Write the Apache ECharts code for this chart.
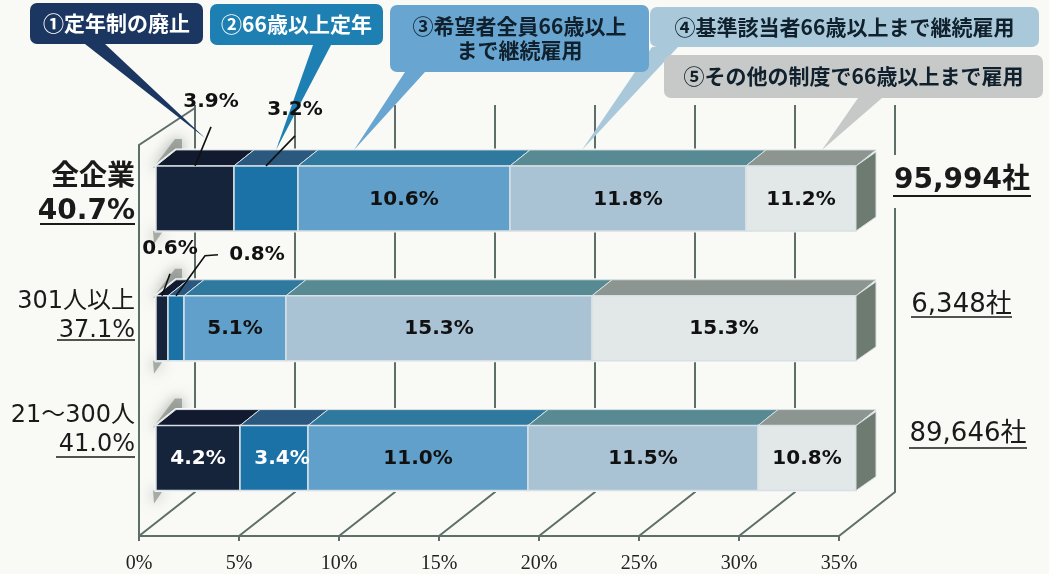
<!DOCTYPE html>
<html><head><meta charset="utf-8">
<style>html,body{margin:0;padding:0;background:#f9faf6}#c{width:1049px;height:574px}</style>
<script src="https://cdn.jsdelivr.net/npm/echarts@6/dist/echarts.min.js"></script>
</head><body><div id="c"></div>
<script>
// ---- data ----
const rows = ['全企業', '301人以上', '21～300人'];
const rowShares = ['40.7%', '37.1%', '41.0%'];
const rowTotals = ['95,994社', '6,348社', '89,646社'];
const abolished = [3.9, 0.6, 4.2];
const over66 = [3.2, 0.8, 3.4];
const allApplicants = [10.6, 5.1, 11.0];
const qualified = [11.8, 15.3, 11.5];
const otherSystems = [11.2, 15.3, 10.8];
const policyNames = ['①定年制の廃止', '②66歳以上定年', '③希望者全員66歳以上\nまで継続雇用', '④基準該当者66歳以上まで継続雇用', '⑤その他の制度で66歳以上まで雇用'];
const ticks = [0, 5, 10, 15, 20, 25, 30, 35];

// ---- style ----
const seriesValues = [abolished, over66, allApplicants, qualified, otherSystems];
const frontColors = ['#15233b', '#1b72a6', '#60a0ca', '#a9c3d5', '#e2e8e8'];
const topColors = ['#111a2e', '#2a587e', '#2f799f', '#588a94', '#8d9590'];
const calloutFill = ['#1b3660', '#1d7fb2', '#68a5d0', '#a9c9db', '#c7c9c8'];
const calloutText = ['#fff', '#fff', '#10202c', '#10202c', '#10202c'];
const calloutRects = [[30, 3, 173, 41], [210, 4, 173, 41], [390, 5, 259, 67], [650, 7, 389, 40], [664, 55, 379, 43]];
const calloutPointers = [
  [[85, 44], [105, 44], [205, 138]],
  [[313, 45], [331, 45], [276, 150]],
  [[405, 72], [425, 72], [354, 150]],
  [[652, 47], [678, 47], [582, 150]],
  [[858, 98], [882, 98], [822, 150]]
];
const calloutZ = [4, 4, 4, 3, 4];
const leftLabelY = [[178, 212], [302, 331], [416, 445]];
const leftUnderlineY = [224, 340, 457];
const rightLabelY = [181, 305, 434];
const rightUnderlineY = [196, 317, 448];
const rightUnderlineX = [[893, 1031], [911, 1012], [909, 1027]];
const leftUnderlineX = [40, 57, 56];
const FACE_DX = 17, FACE_H = 65, TOP_DX = 20, TOP_DY = -16;
const SANS = '"DejaVu Sans","Noto Sans CJK JP",sans-serif';
// labels placed outside the bar: [row, segment] -> leader points and label offset from the segment's top centre
const outside = {
  '0-0': { leader: [[16, -39]], label: [16, -64] },
  '0-1': { leader: [[29, -30]], label: [29, -56] },
  '1-0': { leader: [[8, -22]], label: [8, -47] },
  '1-1': { leader: [[29, -40], [42, -41]], label: [81, -41] }
};
const labelNudge = { '2-1': 8 };
const whiteLabels = { '2-0': 1, '2-1': 1 };
const MAX = 35;

const chart = echarts.init(document.getElementById('c'), null, { renderer: 'canvas' });

function wallItem(params, api) {
  const v = api.value(0), cs = params.coordSys;
  const fx = api.coord([v, 0])[0];
  const fy = cs.y + cs.height + 13;
  const bx = fx + 56, by = fy - 44, topY = 105;
  const st = { stroke: '#5e6f6a', lineWidth: 2, fill: null };
  const kids = [
    { type: 'polyline', shape: { points: [[fx, fy], [bx, by], [bx, topY]] }, style: st }
  ];
  if (v === 0) kids.push({ type: 'polyline', shape: { points: [[fx, fy], [fx, 145], [bx, 108]] }, style: st });
  return { type: 'group', children: kids };
}

function rowBackdrop(params, api) {
  const row = api.value(0);
  const c0 = api.coord([0, row]), c1 = api.coord([MAX, row]);
  const x0 = c0[0] + FACE_DX, x1 = c1[0] + FACE_DX, t = c0[1] - FACE_H / 2, b = c0[1] + FACE_H / 2;
  const bg = { fill: '#f9faf6', stroke: '#f9faf6', lineWidth: 3 };
  const sh = { fill: 'rgba(112,118,112,0.55)', shadowBlur: 14, shadowColor: 'rgba(95,100,95,1)' };
  return { type: 'group', children: [
    { type: 'polygon', shape: { points: [[x0 - 3, t + 2], [x0 + 19, t - 27], [x0 + 26, t - 27], [x0 + 26, t - 14], [x0 + 3, t + 2]] }, style: sh },
    { type: 'polygon', shape: { points: [[x0 - 3, b], [x0 + 7, b], [x0 - 2, b + 13]] }, style: sh },
    { type: 'polygon', shape: { points: [[x0, t], [x0 + TOP_DX, t + TOP_DY], [x1 + TOP_DX, t + TOP_DY], [x1 + TOP_DX, b - 14], [x1, b], [x0, b]] }, style: bg }
  ] };
}

function segmentItem(seg) {
  return function (params, api) {
    const start = api.value(0), val = api.value(1), row = api.value(2);
    const end = Math.min(start + val, MAX);
    const a = api.coord([start, row]), z = api.coord([end, row]);
    const x0 = a[0] + FACE_DX, x1 = z[0] + FACE_DX, t = a[1] - FACE_H / 2, b = a[1] + FACE_H / 2;
    const edge = '#d8e0e4';
    const kids = [
      { type: 'polygon', shape: { points: [[x0, t], [x0 + TOP_DX, t + TOP_DY], [x1 + TOP_DX, t + TOP_DY], [x1, t]] },
        style: { fill: topColors[seg], stroke: edge, lineWidth: 1 } },
      { type: 'rect', shape: { x: x0, y: t, width: x1 - x0, height: b - t },
        style: { fill: frontColors[seg], stroke: edge, lineWidth: 1.5 } }
    ];
    if (start + val >= MAX) {
      kids.push({ type: 'polygon', shape: { points: [[x1, t], [x1 + TOP_DX, t + TOP_DY + 2], [x1 + TOP_DX, b - 14], [x1, b]] },
        style: { fill: '#6d7b70', stroke: edge, lineWidth: 1 } });
    }
    return { type: 'group', children: kids };
  };
}

function labelItem(seg) {
  return function (params, api) {
    const start = api.value(0), val = api.value(1), row = api.value(2);
    const end = Math.min(start + val, MAX);
    const a = api.coord([start, row]), z = api.coord([end, row]);
    const cx = (a[0] + z[0]) / 2 + FACE_DX, t = a[1] - FACE_H / 2;
    const key = row + '-' + seg, o = outside[key];
    const text = val.toFixed(1) + '%';
    const font = 'bold 20px ' + SANS;
    if (o) {
      const pts = [[cx, t]].concat(o.leader.map(p => [cx + p[0], t + p[1]]));
      return { type: 'group', children: [
        { type: 'polyline', shape: { points: pts }, style: { stroke: '#111', lineWidth: 1.6, fill: null } },
        { type: 'text', style: { text, x: cx + o.label[0], y: t + o.label[1], fill: '#111', font, align: 'center', verticalAlign: 'middle' } }
      ] };
    }
    return { type: 'text', style: { text, x: cx + (labelNudge[key] || 0), y: a[1] + 1, fill: whiteLabels[key] ? '#fff' : '#111', font, align: 'center', verticalAlign: 'middle' } };
  };
}

const series = [];
series.push({ type: 'custom', name: 'wall', z: 1, silent: true, renderItem: wallItem, data: ticks.map(v => [v]), encode: { x: 0 } });
series.push({ type: 'custom', name: 'backdrop', z: 2, silent: true, renderItem: rowBackdrop, data: rows.map((r, i) => [i]) });
const running = rows.map(() => 0);
const segData = seriesValues.map(vals => vals.map((v, r) => {
  const d = [running[r], v, r]; running[r] += v; return d;
}));
seriesValues.forEach((vals, s) => {
  series.push({ type: 'custom', name: policyNames[s], z: 5, silent: true, renderItem: segmentItem(s), data: segData[s], encode: { x: [0, 1], y: 2 } });
});
seriesValues.forEach((vals, s) => {
  series.push({ type: 'custom', name: policyNames[s] + ' label', z: 6, silent: true, renderItem: labelItem(s), data: segData[s], encode: { x: [0, 1], y: 2 } });
});

const graphics = [];
policyNames.forEach((name, i) => {
  const r = calloutRects[i];
  graphics.push({ type: 'polygon', z: calloutZ[i], shape: { points: calloutPointers[i] }, style: { fill: calloutFill[i] } });
  graphics.push({ type: 'rect', z: calloutZ[i], shape: { x: r[0], y: r[1], width: r[2], height: r[3], r: 7 }, style: { fill: calloutFill[i] } });
  graphics.push({ type: 'text', z: 10, style: { text: name, x: r[0] + r[2] / 2, y: r[1] + r[3] / 2, fill: calloutText[i],
    font: 'bold 21px "Noto Sans CJK JP"', align: 'center', verticalAlign: 'middle', lineHeight: 24 } });
});
rows.forEach((name, i) => {
  const bold = i === 0;
  const font = (bold ? 'bold 28px ' : '24px ') + SANS;
  graphics.push({ type: 'text', z: 10, style: { text: name, x: 135, y: leftLabelY[i][0], fill: '#1a1a1a', font, align: 'right', verticalAlign: 'middle' } });
  graphics.push({ type: 'text', z: 10, style: { text: rowShares[i], x: 135, y: leftLabelY[i][1], fill: '#1a1a1a', font, align: 'right', verticalAlign: 'middle' } });
  graphics.push({ type: 'line', z: 10, shape: { x1: leftUnderlineX[i], y1: leftUnderlineY[i], x2: 135, y2: leftUnderlineY[i] }, style: { stroke: '#1a1a1a', lineWidth: bold ? 2 : 1.5 } });
  const rx = rightUnderlineX[i];
  if (bold) graphics.push({ type: 'rect', z: 8, shape: { x: 888, y: 155, width: 16, height: 53 }, style: { fill: '#f9faf6' } });
  graphics.push({ type: 'text', z: 10, style: { text: rowTotals[i], x: (rx[0] + rx[1]) / 2, y: rightLabelY[i], fill: '#1a1a1a',
    font: (bold ? 'bold 28px ' : '26px ') + SANS, align: 'center', verticalAlign: 'middle' } });
  graphics.push({ type: 'line', z: 10, shape: { x1: rx[0], y1: rightUnderlineY[i], x2: rx[1], y2: rightUnderlineY[i] }, style: { stroke: '#1a1a1a', lineWidth: bold ? 2 : 1.5 } });
});

chart.setOption({
  animation: false,
  backgroundColor: '#f9faf6',
  grid: { left: 139, top: 133.5, width: 700, height: 390 },
  xAxis: {
    type: 'value', min: 0, max: MAX, interval: 5, offset: 13,
    splitLine: { show: false },
    axisLine: { show: true, lineStyle: { color: '#5e6f6a', width: 2 } },
    axisTick: { show: true, length: 5, lineStyle: { color: '#5e6f6a', width: 2 } },
    axisLabel: { color: '#222', fontFamily: '"Liberation Serif"', fontSize: 20, margin: 18, formatter: '{value}%', hideOverlap: false, showMinLabel: true, showMaxLabel: true }
  },
  yAxis: { type: 'category', inverse: true, data: rows, axisLine: { show: false }, axisTick: { show: false }, axisLabel: { show: false }, splitLine: { show: false } },
  series,
  graphic: { elements: graphics }
});
</script></body></html>
